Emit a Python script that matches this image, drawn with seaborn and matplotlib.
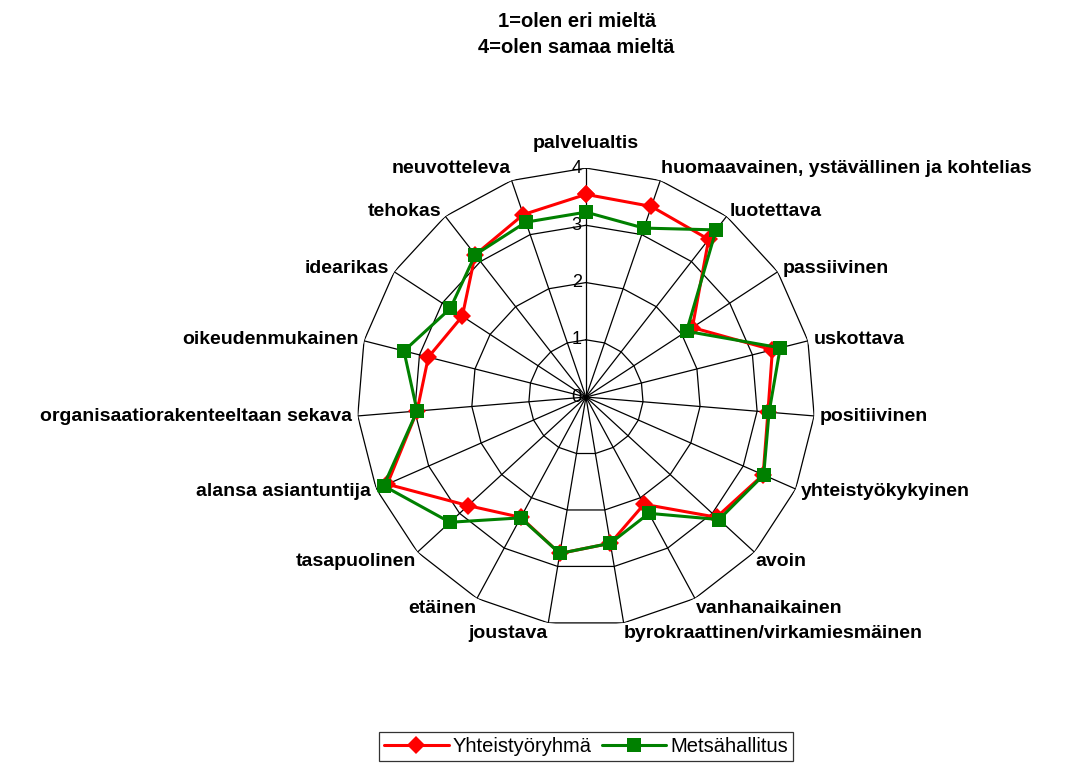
import numpy as np
import pandas as pd
import matplotlib
matplotlib.use("Agg")
import matplotlib.pyplot as plt
import matplotlib.transforms as mtransforms
import seaborn as sns

# %%
categories = ["palvelualtis", "huomaavainen, ystävällinen ja kohtelias", "luotettava",
              "passiivinen", "uskottava", "positiivinen", "yhteistyökykyinen", "avoin",
              "vanhanaikainen", "byrokraattinen/virkamiesmäinen", "joustava", "etäinen",
              "tasapuolinen", "alansa asiantuntija", "organisaatiorakenteeltaan sekava",
              "oikeudenmukainen", "idearikas", "tehokas", "neuvotteleva"]
yhteistyoryhma = [3.54, 3.52, 3.49, 2.22, 3.36, 3.19, 3.38, 3.10, 2.13, 2.59,
                  2.77, 2.39, 2.80, 3.79, 2.96, 2.84, 2.58, 3.15, 3.37]
metsahallitus = [3.23, 3.12, 3.70, 2.10, 3.50, 3.21, 3.39, 3.16, 2.31, 2.59,
                 2.77, 2.40, 3.23, 3.86, 2.96, 3.28, 2.83, 3.15, 3.23]
rticks = [0, 1, 2, 3, 4]

# %%
sns.set_style("white")
plt.rcParams['font.family'] = ['Liberation Sans', 'DejaVu Sans']
plt.rcParams['text.color'] = 'black'

fig = plt.figure(figsize=(10.86, 7.67), dpi=100)
ax = fig.add_axes([0.3287, 0.1838, 0.4217, 0.5971], projection="polar")
ax.set_theta_zero_location("N")
ax.set_theta_direction(-1)
ax.set_ylim(0, 4)
ax.grid(False)
ax.spines["polar"].set_visible(False)
ax.patch.set_alpha(0)

n = len(categories)
theta = np.arange(n) * 2 * np.pi / n
theta_c = np.append(theta, 2 * np.pi)

# polygon grid
for r in rticks[1:]:
    ax.plot(theta_c, [r] * (n + 1), color="black", lw=0.9, zorder=1)
for t in theta:
    ax.plot([t, t], [0, 4], color="black", lw=0.9, zorder=1)

# radial labels
off = mtransforms.offset_copy(ax.transData, fig=fig, x=-3, y=0, units="points")
for r in rticks:
    ax.text(0, r, str(r), transform=off, ha="right", va="center", fontsize=13)

# series
df = pd.DataFrame({
    "theta": np.concatenate([theta_c, theta_c]),
    "value": yhteistyoryhma + yhteistyoryhma[:1] + metsahallitus + metsahallitus[:1],
    "series": ["Yhteistyöryhmä"] * (n + 1) + ["Metsähallitus"] * (n + 1),
})
sns.lineplot(data=df[df.series == "Yhteistyöryhmä"], x="theta", y="value", sort=False,
             color="#ff0000", lw=2.2, marker="D", markersize=9, markeredgewidth=0,
             ax=ax, label="Yhteistyöryhmä", zorder=3)
sns.lineplot(data=df[df.series == "Metsähallitus"], x="theta", y="value", sort=False,
             color="#008000", lw=2.2, marker="s", markersize=10, markeredgewidth=0,
             ax=ax, label="Metsähallitus", zorder=4)
ax.set_xlabel("")
ax.set_ylabel("")
ax.set_xticks([])
ax.set_yticks([])

# category labels
for t, lab in zip(theta, categories):
    s, c = np.sin(t), np.cos(t)
    ha = "center" if abs(s) < 0.1 else ("left" if s > 0 else "right")
    if c > 0.99:
        va, rr = "bottom", 4.28
    elif c > 0.9:
        va, rr = "bottom", 4.06
    elif c < -0.5:
        va, rr = "top", 4.03
    else:
        va, rr = "center", 4.1
    ax.text(t, rr, lab, ha=ha, va=va, fontsize=14, fontweight="bold")

fig.text(0.531, 0.984, "1=olen eri mieltä\n4=olen samaa mieltä", ha="center", va="top",
         fontsize=14.5, fontweight="bold", linespacing=1.42)

leg = ax.legend(loc="upper center", bbox_to_anchor=(0.5, -0.21), ncol=2, frameon=True,
                fancybox=False, edgecolor="black", fontsize=14.5, handlelength=3.2,
                columnspacing=0.5, handletextpad=0.2, borderpad=0.25)
leg.get_frame().set_linewidth(0.9)

fig.savefig("out.png", dpi=100)
